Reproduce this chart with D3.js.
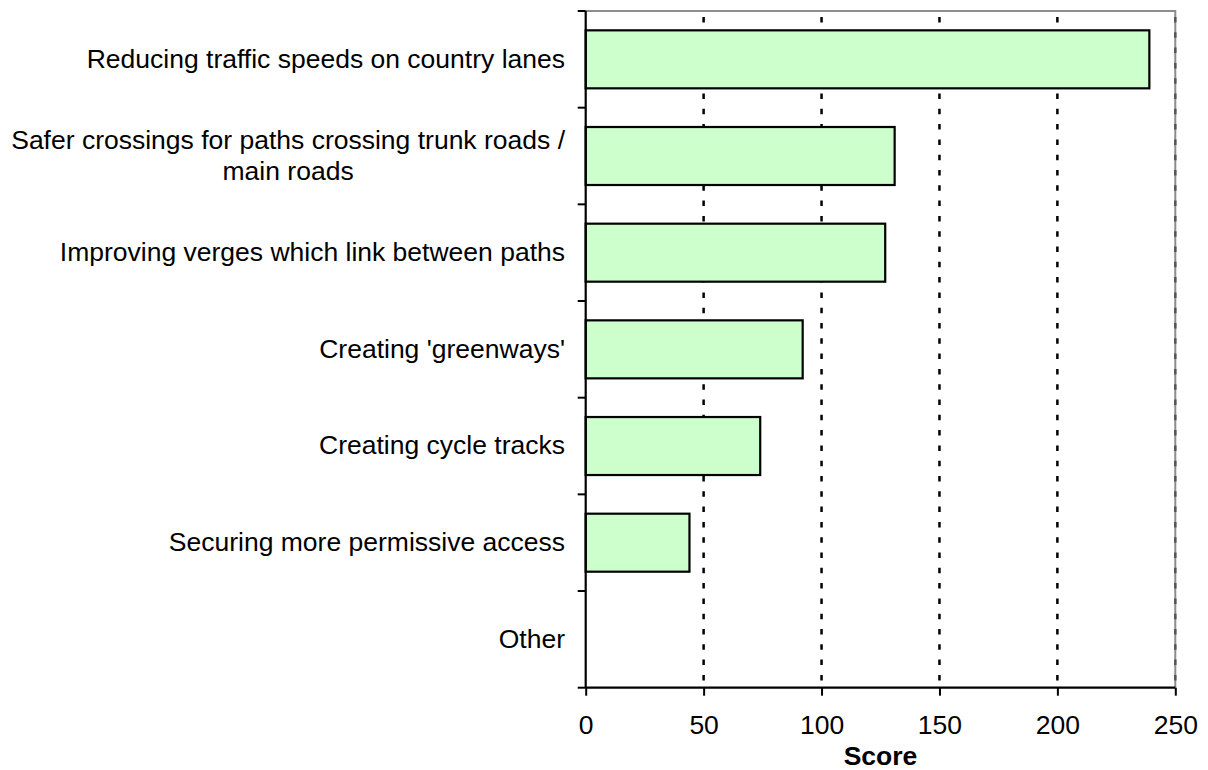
<!DOCTYPE html>
<html>
<head>
<meta charset="utf-8">
<script src="https://cdn.jsdelivr.net/npm/d3@7/dist/d3.min.js"></script>
<style>
  html, body { margin: 0; padding: 0; background: #fff; }
  svg { display: block; font-family: "Liberation Sans", Arial, sans-serif; }
</style>
</head>
<body>
<svg id="chart" width="1208" height="770"></svg>
<script>
// ---- data ----
const categories = [
  "Reducing traffic speeds on country lanes",
  "Safer crossings for paths crossing trunk roads / main roads",
  "Improving verges which link between paths",
  "Creating 'greenways'",
  "Creating cycle tracks",
  "Securing more permissive access",
  "Other"
];
const categoryLines = [
  ["Reducing traffic speeds on country lanes"],
  ["Safer crossings for paths crossing trunk roads /", "main roads"],
  ["Improving verges which link between paths"],
  ["Creating 'greenways'"],
  ["Creating cycle tracks"],
  ["Securing more permissive access"],
  ["Other"]
];
const scores = [239, 131, 127, 92, 74, 44, 0];
const xTicks = [0, 50, 100, 150, 200, 250];
const xTitle = "Score";

// ---- layout ----
const svg = d3.select("#chart");
const pLeft = 585.7, pRight = 1175.3, pTop = 11, pBottom = 687.7;
const fs = 26.5, lh = 31.5;

const x = d3.scaleLinear().domain([0, 250]).range([pLeft, pRight]);
const yBand = d3.scaleBand().domain(categories).range([pTop, pBottom]).padding(0);
const yBar = d3.scaleBand().domain(categories).range([pTop, pBottom])
  .paddingInner(0.4).paddingOuter(0.2);

// plot border (top/right gray)
svg.append("path")
  .attr("d", `M${pLeft},${pTop}H${pRight}V${pBottom}`)
  .attr("fill", "none").attr("stroke", "#8c8c8c").attr("stroke-width", 2);

// gridlines
svg.append("g").selectAll("line")
  .data(xTicks.filter(d => d > 0))
  .join("line")
  .attr("x1", d => x(d)).attr("x2", d => x(d))
  .attr("y1", pTop).attr("y2", pBottom)
  .attr("stroke", d => d === 250 ? "#555" : "#000")
  .attr("stroke-width", 2.5)
  .attr("stroke-dasharray", "5.5,9.8")
  .attr("stroke-dashoffset", -6);

// bars
svg.append("g").selectAll("rect")
  .data(categories.map((c, i) => ({ c, v: scores[i] })).filter(d => d.v > 0))
  .join("rect")
  .attr("x", x(0))
  .attr("y", d => yBar(d.c))
  .attr("width", d => x(d.v) - x(0))
  .attr("height", yBar.bandwidth())
  .attr("fill", "#ccffcc")
  .attr("stroke", "#000")
  .attr("stroke-width", 2.2);

// x axis
const xAxis = svg.append("g")
  .attr("transform", `translate(0,${pBottom})`)
  .call(d3.axisBottom(x).tickValues(xTicks).tickSize(8).tickPadding(19).tickFormat(d3.format("d")));
xAxis.select(".domain").attr("stroke", "#000").attr("stroke-width", 2.2)
  .attr("d", `M${pLeft},0H${pRight}`);
xAxis.selectAll(".tick line").attr("stroke", "#000").attr("stroke-width", 2);
xAxis.selectAll(".tick text").attr("font-size", fs).attr("fill", "#000")
  .attr("font-family", "Liberation Sans, Arial, sans-serif");

// y axis with ticks at band boundaries
const boundaries = categories.map(c => yBand(c)).concat([pBottom]);
const yAxis = svg.append("g");
yAxis.append("line")
  .attr("x1", pLeft).attr("x2", pLeft).attr("y1", pTop).attr("y2", pBottom)
  .attr("stroke", "#000").attr("stroke-width", 2.2);
yAxis.selectAll("line.tk").data(boundaries).join("line").attr("class", "tk")
  .attr("x1", pLeft - 8).attr("x2", pLeft).attr("y1", d => d).attr("y2", d => d)
  .attr("stroke", "#000").attr("stroke-width", 2);

// category labels
const labelRight = 565;
categories.forEach((c, i) => {
  const lines = categoryLines[i];
  const cy = yBand(c) + yBand.bandwidth() / 2 - 1;
  const g = svg.append("g");
  const texts = lines.map((ln, j) => g.append("text")
    .attr("font-size", fs).attr("fill", "#000")
    .attr("y", cy + (j - (lines.length - 1) / 2) * lh)
    .attr("dy", "0.35em")
    .text(ln));
  const widths = texts.map(t => t.node().getComputedTextLength());
  const maxW = Math.max(...widths);
  const center = labelRight - maxW / 2;
  texts.forEach(t => t.attr("text-anchor", "middle").attr("x", center));
});

// x title
svg.append("text")
  .attr("x", (pLeft + pRight) / 2).attr("y", 765)
  .attr("text-anchor", "middle")
  .attr("font-size", fs).attr("font-weight", "bold").attr("fill", "#000")
  .text(xTitle);
</script>
</body>
</html>
